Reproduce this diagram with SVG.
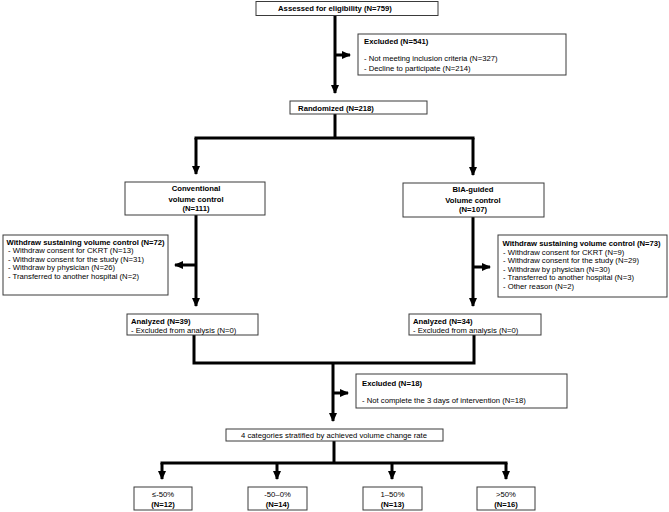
<svg xmlns="http://www.w3.org/2000/svg" width="669" height="512" viewBox="0 0 669 512">
<style>
.box{fill:#fff;stroke:#3a3a3a;stroke-width:1}
text{font-family:"Liberation Sans",Arial,sans-serif;font-size:7.7px;fill:#000}
.b{font-weight:bold}
.c{text-anchor:middle}
.ln{fill:none;stroke:#000;stroke-width:3}
</style>
<defs>
<marker id="ah" markerWidth="9" markerHeight="8" refX="8" refY="4" orient="auto" markerUnits="userSpaceOnUse">
<path d="M0,0 L9,4 L0,8 z" fill="#000"/>
</marker>
</defs>
<g id="connectors">
<path class="ln" d="M335,15 V93" marker-end="url(#ah)"/>
<path class="ln" d="M335,55 H350" marker-end="url(#ah)"/>
<path class="ln" d="M335,114 V138"/>
<path class="ln" d="M196,138 H473" stroke-linecap="square"/>
<path class="ln" d="M196,138 V174" marker-end="url(#ah)"/>
<path class="ln" d="M473,138 V175" marker-end="url(#ah)"/>
<path class="ln" d="M196,215 V306" marker-end="url(#ah)"/>
<path class="ln" d="M196,265 H175" marker-end="url(#ah)"/>
<path class="ln" d="M473,217 V306" marker-end="url(#ah)"/>
<path class="ln" d="M473,267 H490" marker-end="url(#ah)"/>
<path class="ln" d="M194,335 V363 H474 V335"/>
<path class="ln" d="M333,363 V421" marker-end="url(#ah)"/>
<path class="ln" d="M333,393 H348" marker-end="url(#ah)"/>
<path class="ln" d="M334,441 V463"/>
<path class="ln" d="M162,463 H506" stroke-linecap="square"/>
<path class="ln" d="M162,463 V479" marker-end="url(#ah)"/>
<path class="ln" d="M277,463 V479" marker-end="url(#ah)"/>
<path class="ln" d="M392,463 V479" marker-end="url(#ah)"/>
<path class="ln" d="M506,463 V479" marker-end="url(#ah)"/>
</g>
<g id="assessed">
<rect class="box" x="256" y="1.5" width="182" height="14"/>
<text class="b c" x="335" y="11.3">Assessed for eligibility  (N=759)</text>
</g>
<g id="excluded1">
<rect class="box" x="358" y="34" width="208" height="41"/>
<text class="b" x="364" y="43.5">Excluded (N=541)</text>
<text x="364" y="61.3">- Not meeting inclusion  criteria (N=327)</text>
<text x="364" y="70.5">- Decline to participate (N=214)</text>
</g>
<g id="randomized">
<rect class="box" x="290" y="101" width="137" height="13"/>
<text class="b c" x="336" y="110.5">Randomized  (N=218)</text>
</g>
<g id="conventional">
<rect class="box" x="125" y="182" width="140" height="33"/>
<text class="b c" x="196" y="191">Conventional</text>
<text class="b c" x="196" y="201.5">volume control</text>
<text class="b c" x="196" y="211">(N=111)</text>
</g>
<g id="bia">
<rect class="box" x="403" y="183" width="141" height="34"/>
<text class="b c" x="473" y="192">BIA-guided</text>
<text class="b c" x="473" y="202.5">Volume control</text>
<text class="b c" x="473" y="212">(N=107)</text>
</g>
<g id="withdraw-left">
<rect class="box" x="3" y="235" width="165" height="60"/>
<text class="b" x="6.5" y="244.8">Withdraw sustaining volume control (N=72)</text>
<text x="8" y="253.3">- Withdraw consent for CKRT (N=13)</text>
<text x="8" y="261.8">- Withdraw consent for the study (N=31)</text>
<text x="8" y="270.3">- Withdraw by physician (N=26)</text>
<text x="8" y="278.8">- Transferred to another hospital (N=2)</text>
</g>
<g id="withdraw-right">
<rect class="box" x="498" y="235" width="169" height="62"/>
<text class="b" x="502.5" y="245.8">Withdraw sustaining  volume control  (N=73)</text>
<text x="503" y="254.6">- Withdraw consent for CKRT (N=9)</text>
<text x="503" y="263.1">- Withdraw consent for the study (N=29)</text>
<text x="503" y="271.6">- Withdraw by physician (N=30)</text>
<text x="503" y="280.1">- Transferred to another hospital (N=3)</text>
<text x="503" y="288.6">- Other reason (N=2)</text>
</g>
<g id="analyzed-left">
<rect class="box" x="127" y="314" width="131" height="21"/>
<text class="b" x="131" y="323.8">Analyzed  (N=39)</text>
<text x="131" y="332.8">- Excluded  from analysis (N=0)</text>
</g>
<g id="analyzed-right">
<rect class="box" x="409" y="314" width="132" height="21"/>
<text class="b" x="413" y="323.8">Analyzed  (N=34)</text>
<text x="413" y="332.8">- Excluded  from analysis (N=0)</text>
</g>
<g id="excluded2">
<rect class="box" x="356" y="374" width="211" height="34"/>
<text class="b" x="362" y="385.8">Excluded  (N=18)</text>
<text x="362" y="402.8">- Not complete the 3 days of intervention  (N=18)</text>
</g>
<g id="categories">
<rect class="box" x="226" y="429" width="217" height="12"/>
<text class="c" x="334" y="437.8">4 categories  stratified by achieved  volume  change  rate</text>
</g>
<g id="cat1">
<rect class="box" x="134" y="487" width="58" height="23"/>
<text class="c" x="163" y="497.3">≤-50%</text>
<text class="b c" x="163" y="506.8">(N=12)</text>
</g>
<g id="cat2">
<rect class="box" x="248" y="487" width="59" height="23"/>
<text class="c" x="277.5" y="497.3">-50–0%</text>
<text class="b c" x="277.5" y="506.8">(N=14)</text>
</g>
<g id="cat3">
<rect class="box" x="363" y="487" width="59" height="23"/>
<text class="c" x="392.5" y="497.3">1–50%</text>
<text class="b c" x="392.5" y="506.8">(N=13)</text>
</g>
<g id="cat4">
<rect class="box" x="477" y="487" width="58" height="23"/>
<text class="c" x="506" y="497.3">&gt;50%</text>
<text class="b c" x="506" y="506.8">(N=16)</text>
</g>
</svg>
